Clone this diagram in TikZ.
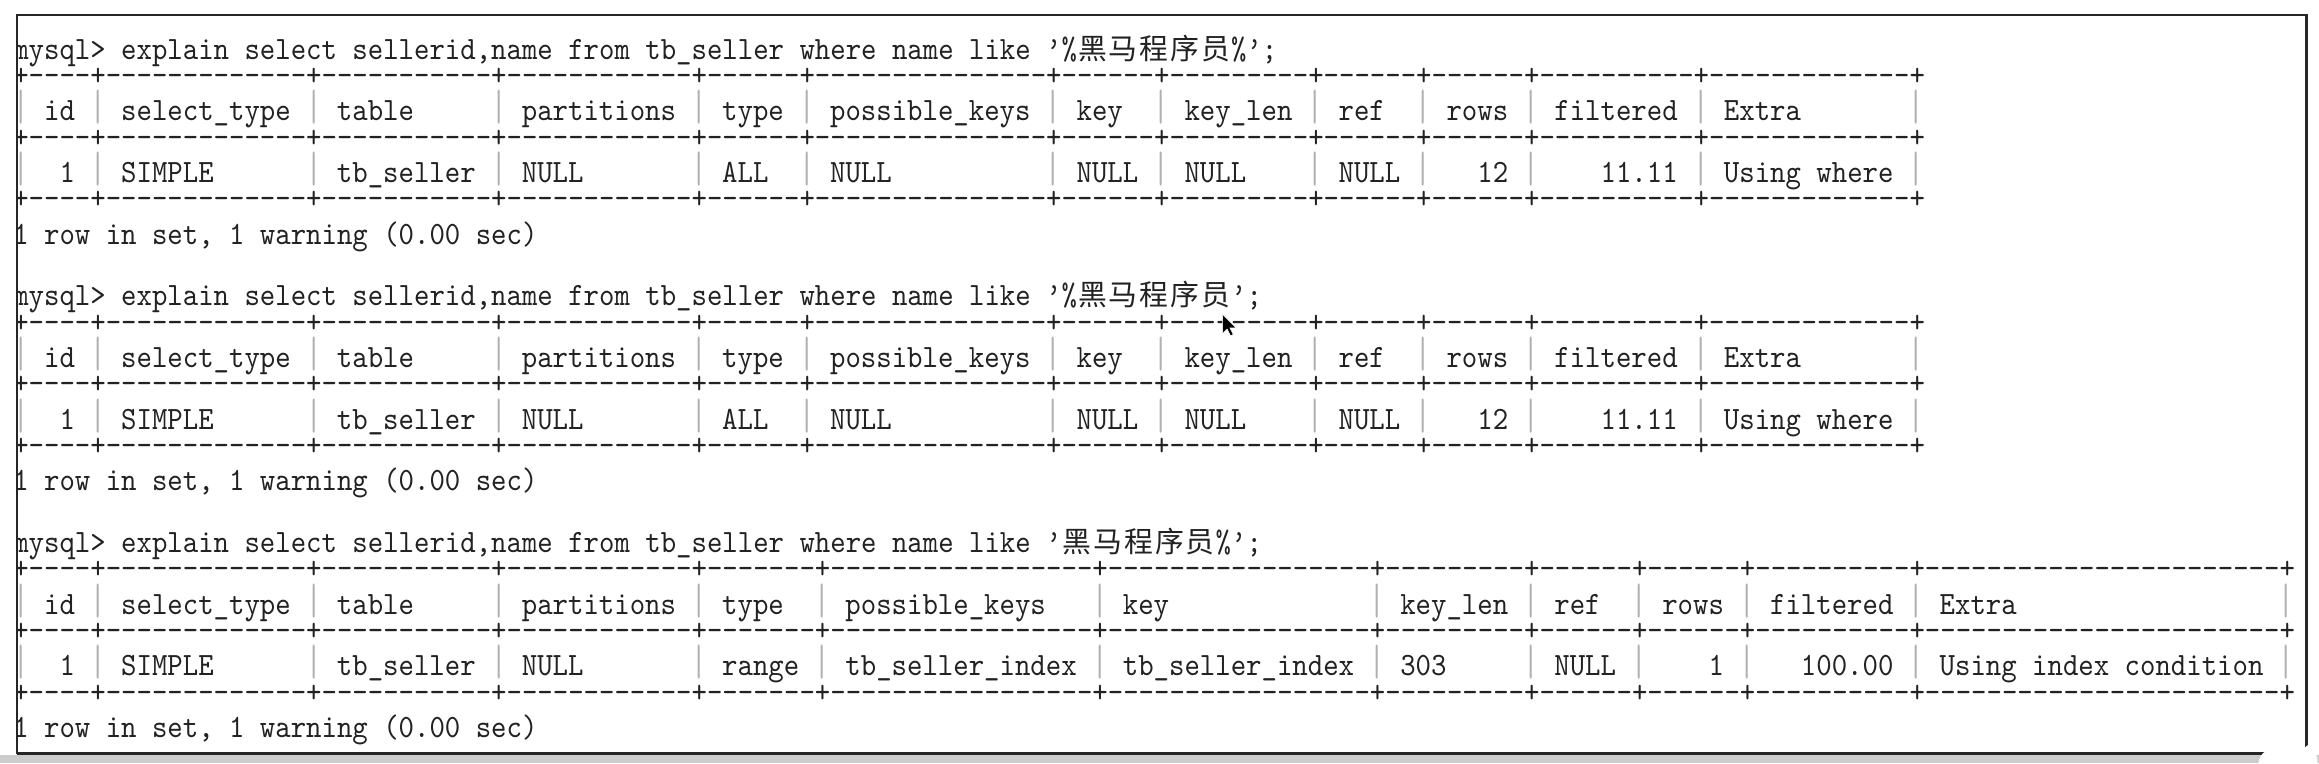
\documentclass[tikz,border=0pt]{standalone}
\usepackage{fontspec}
\usepackage{graphicx}
\setmonofont[FakeStretch=0.9025]{lmmono10-regular.otf}
\newfontfamily\cjk{Noto Sans CJK SC}
\definecolor{txt}{HTML}{222222}
\definecolor{barc}{HTML}{B5B0AC}
\definecolor{frm}{HTML}{262626}
\newcommand\cw{10.42}
\newcommand\xo{9.0}
\newcommand\cj[1]{\makebox[20.84pt][c]{\cjk\fontsize{19.5}{19.5}\selectfont #1}}
\newcommand\hm{\cj{黑}\cj{马}\cj{程}\cj{序}\cj{员}}
\newcommand\sepline[1]{+\foreach \d in {#1}{\foreach \i in {1,...,\d}{-}+}}
\newcommand\tallbar{\scalebox{1}[1.35]{|}}
\tikzset{
  cell/.style={anchor=base west, inner sep=0pt, outer sep=0pt,
    font=\ttfamily\fontsize{22}{22}\selectfont, text=txt},
  vbar/.style={cell, text=barc},
}
% #1 id, #2 baseline of command line, #3 dash widths, #4 header, #5 data, #6 bar columns
\newcommand\tbl[6]{%
  \foreach \k/\s in {1/a,3/b,5/c}{\node[cell] (s#1\s) at (\xo,{#2+20.84*\k-3}) {\sepline{#3}};}
  \foreach \c/\t [count=\n] in {#4}{\node[cell] (h#1-\n) at ({\xo+\c*\cw},{#2+41.68}) {\t};}
  \foreach \c/\t [count=\n] in {#5}{\node[cell] (d#1-\n) at ({\xo+\c*\cw},{#2+83.36}) {\t};}
  \foreach \c [count=\n] in {#6}{%
    \node[vbar] (v#1h\n) at ({\xo+\c*\cw},{#2+41.68}) {\tallbar};
    \node[vbar] (v#1d\n) at ({\xo+\c*\cw},{#2+83.36}) {\tallbar};}
}
\begin{document}
\begin{tikzpicture}[x=1pt,y=-1pt]
\useasboundingbox (0,0) rectangle (1568,516);
\fill[white] (0,0) rectangle (1568,516);
\fill[black!20] (0,510.5) rectangle (1568,516);
\fill[white] (12,11) rectangle (1559,509);
\begin{scope}
\clip (12.2,11) rectangle (1558.8,508.5);
% block 1
\node[cell] (q1) at (\xo,40.1) {mysql> explain select sellerid,name from tb\_seller where name like ’\%\hm\%’;};
\tbl{1}{40.1}{4,13,11,12,6,15,6,9,6,6,10,13}
 {2/id,7/select\_type,21/table,33/partitions,46/type,53/possible\_keys,69/key,76/key\_len,86/ref,93/rows,100/filtered,111/Extra}
 {3/1,7/SIMPLE,21/tb\_seller,33/NULL,46/ALL,53/NULL,69/NULL,76/NULL,86/NULL,95/12,103/11.11,111/Using where}
 {0,5,19,31,44,51,67,74,84,91,98,109,123}
\node[cell] (r1) at (\xo,{40.1+125.04}) {1 row in set, 1 warning (0.00 sec)};
% block 2
\node[cell] (q2) at (\xo,206.8) {mysql> explain select sellerid,name from tb\_seller where name like ’\%\hm’;};
\tbl{2}{206.8}{4,13,11,12,6,15,6,9,6,6,10,13}
 {2/id,7/select\_type,21/table,33/partitions,46/type,53/possible\_keys,69/key,76/key\_len,86/ref,93/rows,100/filtered,111/Extra}
 {3/1,7/SIMPLE,21/tb\_seller,33/NULL,46/ALL,53/NULL,69/NULL,76/NULL,86/NULL,95/12,103/11.11,111/Using where}
 {0,5,19,31,44,51,67,74,84,91,98,109,123}
\node[cell] (r2) at (\xo,{206.8+125.04}) {1 row in set, 1 warning (0.00 sec)};
% block 3
\node[cell] (q3) at (\xo,373.5) {mysql> explain select sellerid,name from tb\_seller where name like ’\hm\%’;};
\tbl{3}{373.5}{4,13,11,12,7,17,17,9,6,6,10,23}
 {2/id,7/select\_type,21/table,33/partitions,46/type,54/possible\_keys,72/key,90/key\_len,100/ref,107/rows,114/filtered,125/Extra}
 {3/1,7/SIMPLE,21/tb\_seller,33/NULL,46/range,54/tb\_seller\_index,72/tb\_seller\_index,90/303,100/NULL,110/1,116/100.00,125/Using index condition}
 {0,5,19,31,44,52,70,88,98,105,112,123,147}
\node[cell] (r3) at (\xo,{373.5+125.04}) {1 row in set, 1 warning (0.00 sec)};
\end{scope}
% frame
\draw[frm, line width=1.4pt] (11.3,10.1) rectangle (1559.6,509.3);
\draw[frm, line width=2.4pt] (1559.6,10.1) -- (1559.6,509.6) -- (11.3,509.6);
% mouse cursor
\fill[black, draw=white, line width=0.4pt] (826.7,212.5) -- ++(0,13) -- ++(3,-3) -- ++(2.3,4.6) -- ++(1.9,-0.9) -- ++(-2.3,-4.5) -- ++(4.3,0) -- cycle;
% corner watermark
\fill[white] (1527,516) .. controls (1528,509) and (1533,506) .. (1540,506) -- (1560,506) .. controls (1565,506) and (1567,510) .. (1567,516) -- cycle;
\fill[white] (1537,508) -- (1535,500) -- (1546,507) -- cycle;
\fill[white] (1556,507) -- (1566,500) -- (1563,509) -- cycle;
\end{tikzpicture}
\end{document}
